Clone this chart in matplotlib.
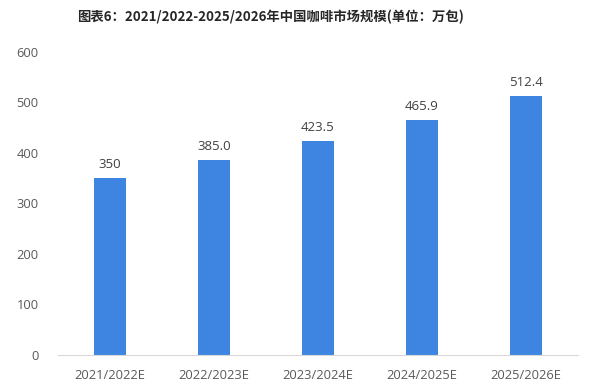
import matplotlib
matplotlib.use('Agg')
import matplotlib.pyplot as plt

plt.rcParams['font.family'] = ['Noto Sans CJK SC', 'DejaVu Sans']

categories = ['2021/2022E', '2022/2023E', '2023/2024E', '2024/2025E', '2025/2026E']
values = [350, 385.0, 423.5, 465.9, 512.4]
value_labels = ['350', '385.0', '423.5', '465.9', '512.4']

fig = plt.figure(figsize=(6, 3.87), dpi=100)
ax = fig.add_axes([0.097, 0.083, 0.866, 0.783])

x = range(len(categories))
ax.bar(x, values, width=0.31, color='#3D85E0', zorder=2)
for i, v in enumerate(values):
    ax.text(i, v + 14, value_labels[i], ha='center', va='bottom',
            fontsize=9.5, color='#404040', family=['Open Sans', 'DejaVu Sans'])

ax.set_xlim(-0.5, len(categories) - 0.5)
ax.set_ylim(0, 600)
ax.set_yticks(range(0, 601, 100))
ax.set_xticks(list(x))
ax.set_xticklabels(categories)
for lab in ax.get_xticklabels() + ax.get_yticklabels():
    lab.set_family(['Open Sans', 'DejaVu Sans'])
    lab.set_fontsize(9.3)
    lab.set_color('#595959')
ax.tick_params(axis='both', length=0)
ax.tick_params(axis='y', pad=14)
ax.tick_params(axis='x', pad=10)

for s in ['top', 'right', 'left']:
    ax.spines[s].set_visible(False)
ax.spines['bottom'].set_color('#D9D9D9')

fig.text(0.45, 0.955, '图表6：2021/2022-2025/2026年中国咖啡市场规模(单位：万包)',
         ha='center', va='center', fontsize=9.6, fontweight='bold', color='#262626')

fig.savefig('out.png', dpi=100, facecolor='white')
